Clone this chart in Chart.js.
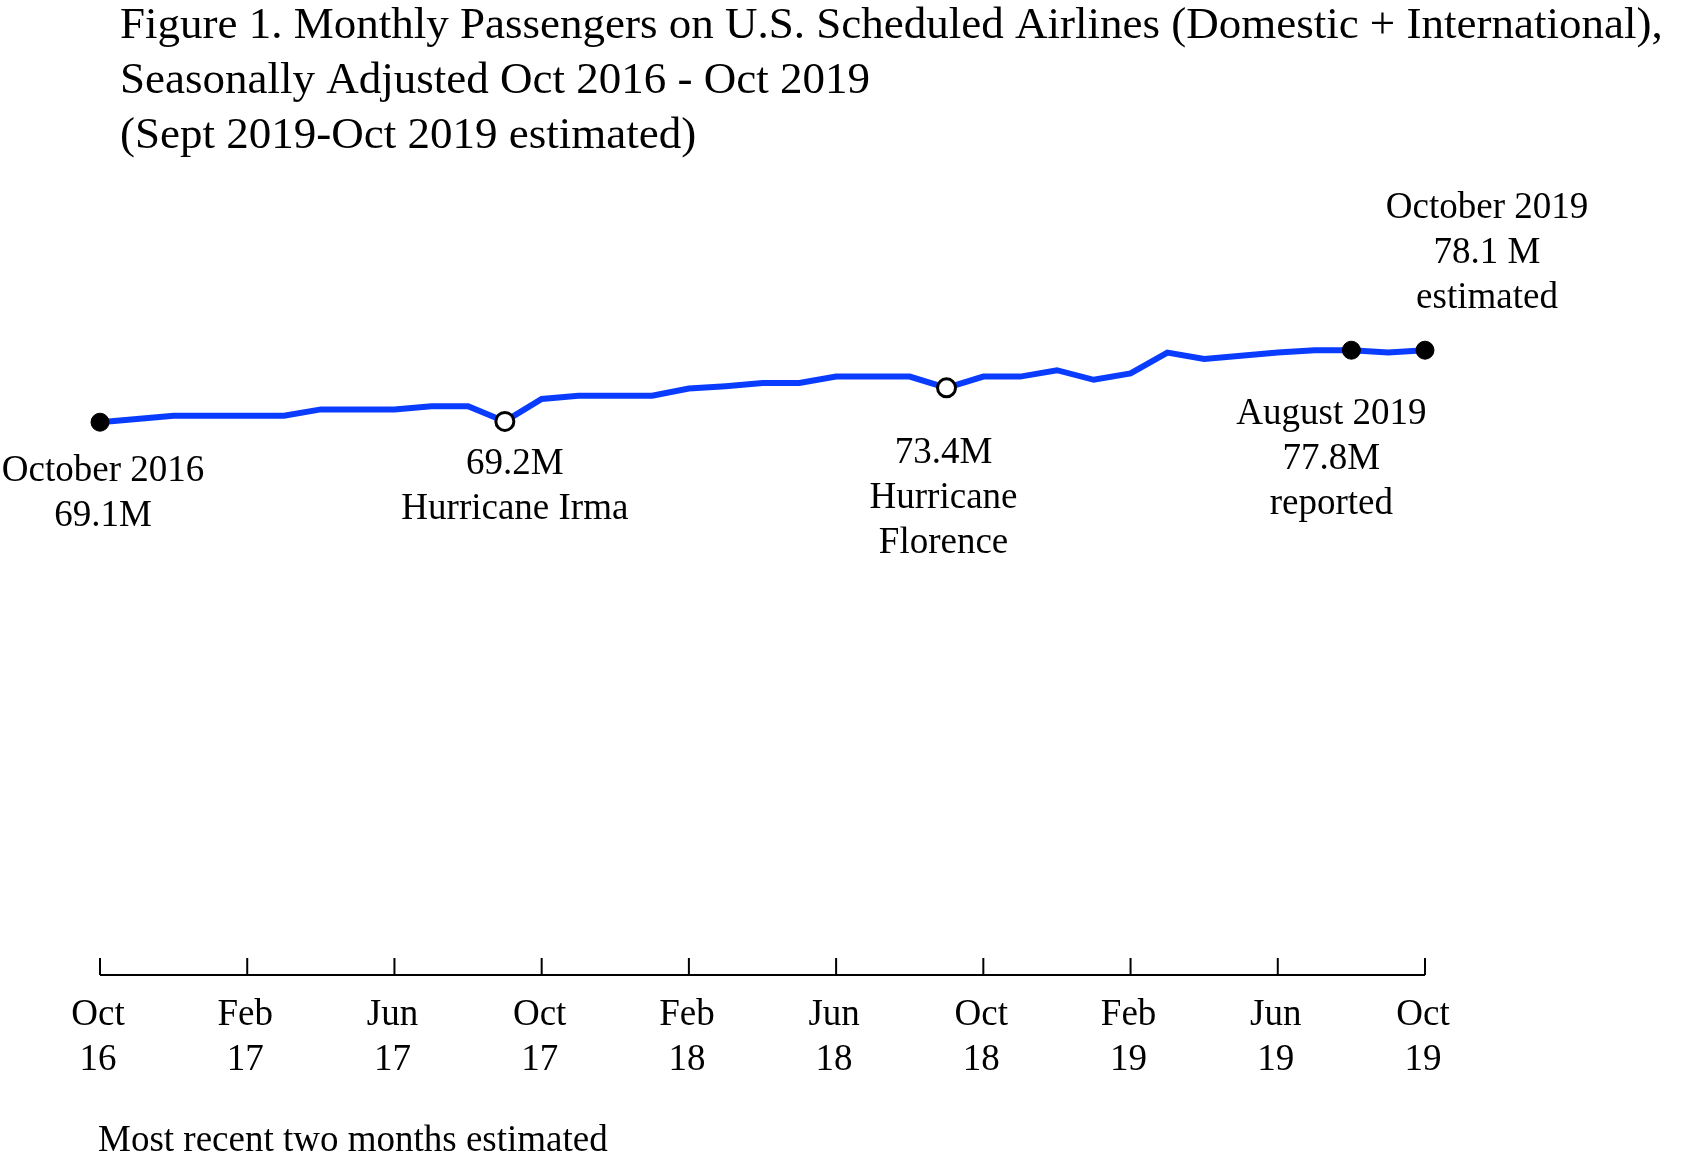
<!DOCTYPE html>
<html><head><meta charset="utf-8">
<script src="https://cdn.jsdelivr.net/npm/chart.js@4"></script>
<style>html,body{margin:0;padding:0;background:#fff}#w{width:1701px;height:1163px}</style>
</head><body><div id="w"><canvas id="c"></canvas></div>
<script>
const months = Array.from({length:37},(_,i)=>i);
const passengers = [69.1,69.5,69.9,69.9,69.9,69.9,70.7,70.7,70.7,71.1,71.1,69.2,72.0,72.4,72.4,72.4,73.3,73.6,74.0,74.0,74.8,74.8,74.8,73.4,74.8,74.8,75.6,74.4,75.2,77.8,77.0,77.4,77.8,78.1,78.1,77.8,78.1];
const tickMonths = [0,4,8,12,16,20,24,28,32,36];
const tickLabels = [["Oct","16"],["Feb","17"],["Jun","17"],["Oct","17"],["Feb","18"],["Jun","18"],["Oct","18"],["Feb","19"],["Jun","19"],["Oct","19"]];
const titleLines = ["Figure 1. Monthly Passengers on U.S. Scheduled Airlines (Domestic + International),","Seasonally Adjusted Oct 2016 - Oct 2019","(Sept 2019-Oct 2019 estimated)"];
const filledIdx = [0,34,36];
const openIdx = [11,23];
const notes = [
 {i:0, dx:3, lines:["October 2016","69.1M"], y:471},
 {i:11, dx:10, lines:["69.2M","Hurricane Irma"], y:464},
 {i:23, dx:-3, lines:["73.4M","Hurricane","Florence"], y:453},
 {i:34, dx:-20, lines:["August 2019","77.8M","reported"], y:414},
 {i:36, dx:62, lines:["October 2019","78.1 M","estimated"], y:208}
];
const pts = months.map((m,k)=>({x:m,y:passengers[k]}));
const F = '"Liberation Serif","Times New Roman",serif';
const deco = {
 id:'deco',
 afterDraw(ch){
  const c=ch.ctx, xs=ch.scales.x, a=ch.chartArea;
  c.save();
  c.fillStyle='#000'; c.strokeStyle='#000'; c.textBaseline='middle';
  c.font='45px '+F; c.textAlign='left';
  titleLines.forEach((t,k)=>c.fillText(t,120,26+k*55));
  c.lineWidth=2;
  c.beginPath(); c.moveTo(xs.getPixelForValue(0),a.bottom); c.lineTo(xs.getPixelForValue(36),a.bottom); c.stroke();
  c.font='37px '+F; c.textAlign='center';
  tickMonths.forEach((m,k)=>{
   const px=xs.getPixelForValue(m);
   c.beginPath(); c.moveTo(px,a.bottom); c.lineTo(px,a.bottom-17); c.stroke();
   c.fillText(tickLabels[k][0],px-2,1015); c.fillText(tickLabels[k][1],px-2,1060);
  });
  notes.forEach(n=>{
   const px=xs.getPixelForValue(n.i)+n.dx;
   n.lines.forEach((t,k)=>c.fillText(t,px,n.y+k*45));
  });
  c.textAlign='left';
  c.fillText('Most recent two months estimated',98,1141);
  c.restore();
 }
};
new Chart(document.getElementById('c'),{
 type:'line',
 data:{datasets:[{data:pts,borderColor:'#0a3cff',borderWidth:6,tension:0,clip:false,
  pointRadius:pts.map((p,k)=>filledIdx.includes(k)||openIdx.includes(k)?9:0),
  pointBackgroundColor:pts.map((p,k)=>openIdx.includes(k)?'#fff':'#000'),
  pointBorderColor:'#000',pointBorderWidth:pts.map((p,k)=>openIdx.includes(k)?3:1)}]},
 options:{responsive:true,maintainAspectRatio:false,animation:false,
  layout:{padding:{left:100,right:276,top:200,bottom:188}},
  plugins:{legend:{display:false},tooltip:{enabled:false}},
  scales:{x:{type:'linear',min:0,max:36,display:false},y:{min:0,max:96.875,display:false}}},
 plugins:[deco]
});
</script></body></html>
